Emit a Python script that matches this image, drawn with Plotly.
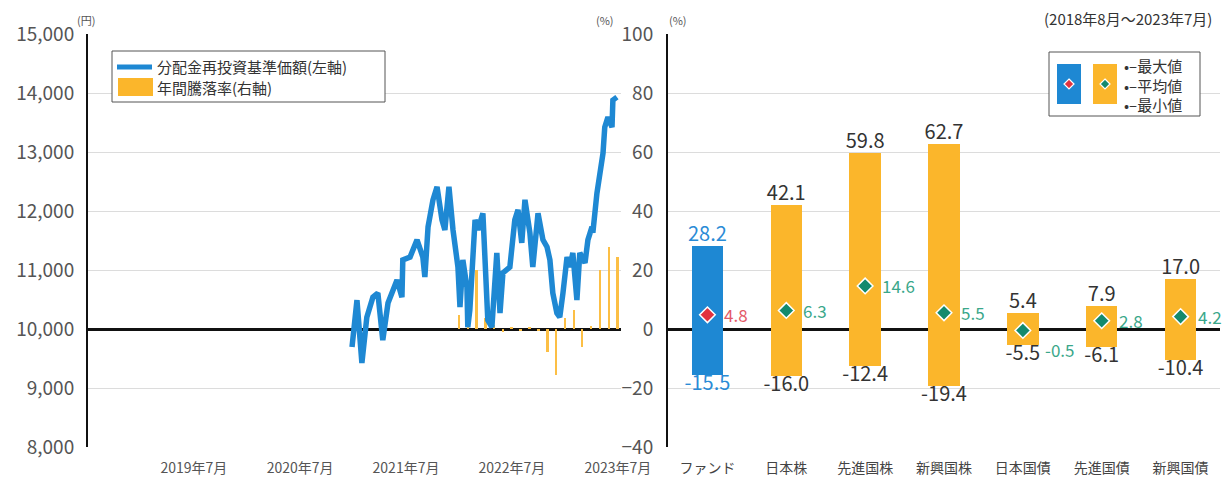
import plotly.graph_objects as go

# ---------------- data ----------------
nav_dates = ["2020-12-27","2021-01-13","2021-01-30","2021-02-16","2021-03-09","2021-03-26","2021-04-12","2021-04-30",
             "2021-05-31","2021-06-17","2021-06-20","2021-07-15","2021-08-08","2021-08-28","2021-09-04","2021-09-15",
             "2021-10-02","2021-10-16","2021-11-02","2021-11-12","2021-11-26","2021-12-10","2021-12-27","2022-01-03",
             "2022-01-13","2022-01-27","2022-01-30","2022-02-06","2022-02-24","2022-03-06","2022-03-23","2022-03-30",
             "2022-04-09","2022-04-23","2022-05-10","2022-05-21","2022-05-31","2022-06-24","2022-07-11","2022-07-22",
             "2022-08-04","2022-08-15","2022-09-01","2022-09-11","2022-09-29","2022-10-16","2022-10-30","2022-11-09",
             "2022-11-19","2022-12-03","2022-12-13","2022-12-24","2023-01-07","2023-01-17","2023-01-27","2023-02-10",
             "2023-02-20","2023-03-10","2023-03-20","2023-04-03","2023-04-06","2023-04-20","2023-04-30","2023-05-11",
             "2023-05-17","2023-05-28","2023-06-11","2023-06-14","2023-06-28"]
nav_values = [9695,10490,9424,10200,10540,10610,9810,10440,
              10830,10540,11170,11220,11510,11220,10880,11730,
              12190,12410,11850,11680,12410,11680,11050,10370,
              11170,10710,10030,10320,11850,11680,11960,11050,
              10150,10030,11290,10270,10950,11050,11850,12020,
              11460,12190,11630,11050,11960,11510,11390,11170,
              10610,10270,10200,10610,11220,11050,11290,10490,
              11290,11120,11510,11730,11630,12300,12580,12980,
              13420,13590,13420,13880,13930]

ret_dates = ["2021-12-31","2022-01-31","2022-02-28","2022-03-31","2022-04-30","2022-05-31","2022-06-30",
             "2022-07-31","2022-08-31","2022-09-30","2022-10-31","2022-11-30","2022-12-31","2023-01-31",
             "2023-02-28","2023-03-31","2023-04-30","2023-05-31","2023-06-30"]
ret_values = [4.7, 6.0, 20.0, 3.7, 1.5, -1.0, 0.6, -0.5, 0.5, -0.6, -7.7, -15.6, 3.7, 6.4,
              -6.0, 1.0, 20.0, 27.8, 24.4]

x_tick_vals = ["2019-07-01","2020-07-01","2021-07-01","2022-07-01","2023-07-01"]
x_tick_text = ["2019年7月","2020年7月","2021年7月","2022年7月","2023年7月"]

categories = ["ファンド","日本株","先進国株","新興国株","日本国債","先進国債","新興国債"]
max_values = [28.2, 42.1, 59.8, 62.7, 5.4, 7.9, 17.0]
avg_values = [4.8, 6.3, 14.6, 5.5, -0.5, 2.8, 4.2]
min_values = [-15.5, -16.0, -12.4, -19.4, -5.5, -6.1, -10.4]

# ---------------- styles ----------------
BLUE = "#1e88d3"
YELLOW = "#fbb62b"
BAR_YELLOW = "#fcbf45"
RED = "#e1323f"
RED_TXT = "#e45a68"
GREEN = "#138a6d"
GREEN_TXT = "#3aa78a"
DARK = "#333333"
TICK = "#555555"
GRID = "#dcdcdc"
FONT = "Noto Sans CJK JP"
W, H = 1227, 482

def px(x):
    return x / W

def py(y):
    return 1 - y / H

fig = go.Figure()

# left: annual return bars (base y = percent axis)
fig.add_trace(go.Bar(x=ret_dates, y=ret_values, xaxis="x", yaxis="y",
                     marker=dict(color=BAR_YELLOW, line=dict(width=0)),
                     width=9 * 86400000, showlegend=False))
# left: NAV line (overlaying y2)
fig.add_trace(go.Scatter(x=nav_dates, y=nav_values, xaxis="x", yaxis="y2", mode="lines",
                         line=dict(color=BLUE, width=5.5), showlegend=False))

# right: floating bars
bar_colors = [BLUE] + [YELLOW] * (len(categories) - 1)
fig.add_trace(go.Bar(x=categories, y=[mx - mn for mx, mn in zip(max_values, min_values)],
                     base=min_values, xaxis="x3", yaxis="y3", width=0.4,
                     marker=dict(color=bar_colors, line=dict(width=0)), showlegend=False))

lab_colors = ["#2a8bd6"] + [DARK] * (len(categories) - 1)
fig.add_trace(go.Scatter(x=categories, y=max_values, xaxis="x3", yaxis="y3", mode="text",
                         text=[f"{v:.1f}" for v in max_values], textposition="top center",
                         textfont=dict(size=20, color=lab_colors, family=FONT),
                         cliponaxis=False, showlegend=False))
fig.add_trace(go.Scatter(x=categories, y=min_values, xaxis="x3", yaxis="y3", mode="text",
                         text=[f"{v:.1f}" for v in min_values], textposition="bottom center",
                         textfont=dict(size=20, color=lab_colors, family=FONT),
                         cliponaxis=False, showlegend=False))

avg_colors = [RED] + [GREEN] * (len(categories) - 1)
avg_txt_colors = [RED_TXT] + [GREEN_TXT] * (len(categories) - 1)
fig.add_trace(go.Scatter(x=categories, y=avg_values, xaxis="x3", yaxis="y3", mode="markers",
                         marker=dict(symbol="diamond", size=12, color=avg_colors,
                                     line=dict(color="white", width=1.5)),
                         cliponaxis=False, showlegend=False))

y_dom = [py(447), py(34)]
zero_pos = py(329)
left_dom = [px(88), px(621)]
right_dom = [px(668), px(1220)]

fig.update_layout(
    width=W, height=H,
    margin=dict(l=0, r=0, t=0, b=0, autoexpand=False),
    paper_bgcolor="white", plot_bgcolor="white",
    font=dict(family=FONT, color=DARK),
    bargap=0,
    xaxis=dict(type="date", domain=left_dom, anchor="y", range=["2018-07-01", "2023-07-12"],
               tickvals=x_tick_vals, ticktext=x_tick_text, showgrid=False, zeroline=False,
               ticks="", tickfont=dict(size=14, color=TICK), ticklabelstandoff=11, showline=False,
               automargin=False),
    xaxis4=dict(type="date", domain=left_dom, overlaying="x", anchor="free", position=zero_pos,
                range=["2018-07-01", "2023-07-12"], tickvals=x_tick_vals, showticklabels=False,
                ticks="outside", ticklen=5, tickwidth=1.5, tickcolor="#111", showgrid=False,
                zeroline=False, showline=False, automargin=False),
    yaxis=dict(domain=y_dom, anchor="x", side="right", range=[-40, 100], dtick=20,
               showticklabels=False, showgrid=True, gridcolor=GRID, gridwidth=1.2,
               zeroline=True, zerolinecolor="#111", zerolinewidth=2.5, ticks="", automargin=False),
    yaxis2=dict(overlaying="y", anchor="x", side="left", range=[8000, 15000], dtick=1000,
                tickformat=",d", showgrid=False, zeroline=False, showline=True,
                linecolor="#111", linewidth=2, ticks="", tickfont=dict(size=19, color=TICK),
                ticklabelstandoff=8, automargin=False),
    xaxis3=dict(type="category", domain=right_dom, anchor="y3", range=[-0.5, 6.5],
                categoryorder="array", categoryarray=categories, showgrid=False, zeroline=False,
                ticks="", tickfont=dict(size=14, color="#444"), ticklabelstandoff=11,
                automargin=False),
    xaxis5=dict(type="linear", overlaying="x3", anchor="free", position=zero_pos,
                range=[-0.5, 6.5], tickvals=[0.5, 1.5, 2.5, 3.5, 4.5, 5.5], showticklabels=False,
                ticks="outside", ticklen=5, tickwidth=1.5, tickcolor="#111", showgrid=False,
                zeroline=False, showline=False, automargin=False),
    yaxis3=dict(domain=y_dom, anchor="x3", range=[-40, 100], dtick=20, showgrid=True,
                gridcolor=GRID, gridwidth=1.2, zeroline=True, zerolinecolor="#111",
                zerolinewidth=2.5, showline=True, linecolor="#111", linewidth=2, ticks="",
                tickfont=dict(size=19, color=TICK), ticklabelstandoff=9, automargin=False),
)

shapes = []
annotations = []

# average value labels (data coordinates from the arrays)
for i, (cat, v) in enumerate(zip(categories, avg_values)):
    low = v < 0
    annotations.append(dict(xref="x3", yref="y3", x=cat, y=v, text=f"{v:.1f}", showarrow=False,
                            xanchor="left", yanchor="middle", xshift=20 if low else 15,
                            yshift=-19 if low else 0,
                            font=dict(size=17, color=avg_txt_colors[i], family=FONT)))

# left legend
shapes.append(dict(type="rect", xref="paper", yref="paper", x0=px(112), x1=px(385), y0=py(102), y1=py(51),
                   line=dict(color="#555", width=1), fillcolor="white", layer="above"))
shapes.append(dict(type="line", xref="paper", yref="paper", x0=px(117), x1=px(152), y0=py(67), y1=py(67),
                   line=dict(color=BLUE, width=5), layer="above"))
shapes.append(dict(type="rect", xref="paper", yref="paper", x0=px(118), x1=px(153), y0=py(96), y1=py(78),
                   line=dict(width=0), fillcolor=YELLOW, layer="above"))
annotations.append(dict(xref="paper", yref="paper", x=px(155), y=py(67), xanchor="left", yanchor="middle",
                        text="分配金再投資基準価額(左軸)", showarrow=False, font=dict(size=15, color=DARK)))
annotations.append(dict(xref="paper", yref="paper", x=px(155), y=py(87), xanchor="left", yanchor="middle",
                        text="年間騰落率(右軸)", showarrow=False, font=dict(size=15, color=DARK)))

# right legend
shapes.append(dict(type="rect", xref="paper", yref="paper", x0=px(1049), x1=px(1200), y0=py(116), y1=py(52),
                   line=dict(color="#555", width=1), fillcolor="white", layer="above"))
shapes.append(dict(type="rect", xref="paper", yref="paper", x0=px(1057), x1=px(1081), y0=py(104), y1=py(64),
                   line=dict(width=0), fillcolor=BLUE, layer="above"))
shapes.append(dict(type="rect", xref="paper", yref="paper", x0=px(1093), x1=px(1117), y0=py(104), y1=py(64),
                   line=dict(width=0), fillcolor=YELLOW, layer="above"))
for cx, col in [(1069, RED), (1105, GREEN)]:
    d = 5
    path = (f"M {px(cx)},{py(84 - d)} L {px(cx + d)},{py(84)} L {px(cx)},{py(84 + d)} "
            f"L {px(cx - d)},{py(84)} Z")
    shapes.append(dict(type="path", xref="paper", yref="paper", path=path, fillcolor=col,
                       line=dict(color="white", width=1.2), layer="above"))
for yy, t in [(66, "最大値"), (85, "平均値"), (104, "最小値")]:
    annotations.append(dict(xref="paper", yref="paper", x=px(1122), y=py(yy), xanchor="left",
                            yanchor="middle", text="•–" + t, showarrow=False,
                            font=dict(size=15, color=DARK)))

# unit labels / period
annotations.append(dict(xref="paper", yref="paper", x=px(86), y=py(20), text="(円)", showarrow=False,
                        font=dict(size=11, color=TICK), xanchor="center", yanchor="middle"))
annotations.append(dict(xref="paper", yref="paper", x=px(605), y=py(20), text="(%)", showarrow=False,
                        font=dict(size=11, color=TICK), xanchor="center", yanchor="middle"))
annotations.append(dict(xref="paper", yref="paper", x=px(678), y=py(20), text="(%)", showarrow=False,
                        font=dict(size=11, color=TICK), xanchor="center", yanchor="middle"))
annotations.append(dict(xref="paper", yref="paper", x=px(1214), y=py(19), text="(2018年8月～2023年7月)",
                        showarrow=False, font=dict(size=15, color=DARK), xanchor="right", yanchor="middle"))

fig.update_layout(shapes=shapes, annotations=annotations)

fig.write_html("out.html", config={"displayModeBar": False},
               post_script="document.body.style.margin='0';document.body.style.padding='0';"
                           "document.body.style.overflow='hidden';")
